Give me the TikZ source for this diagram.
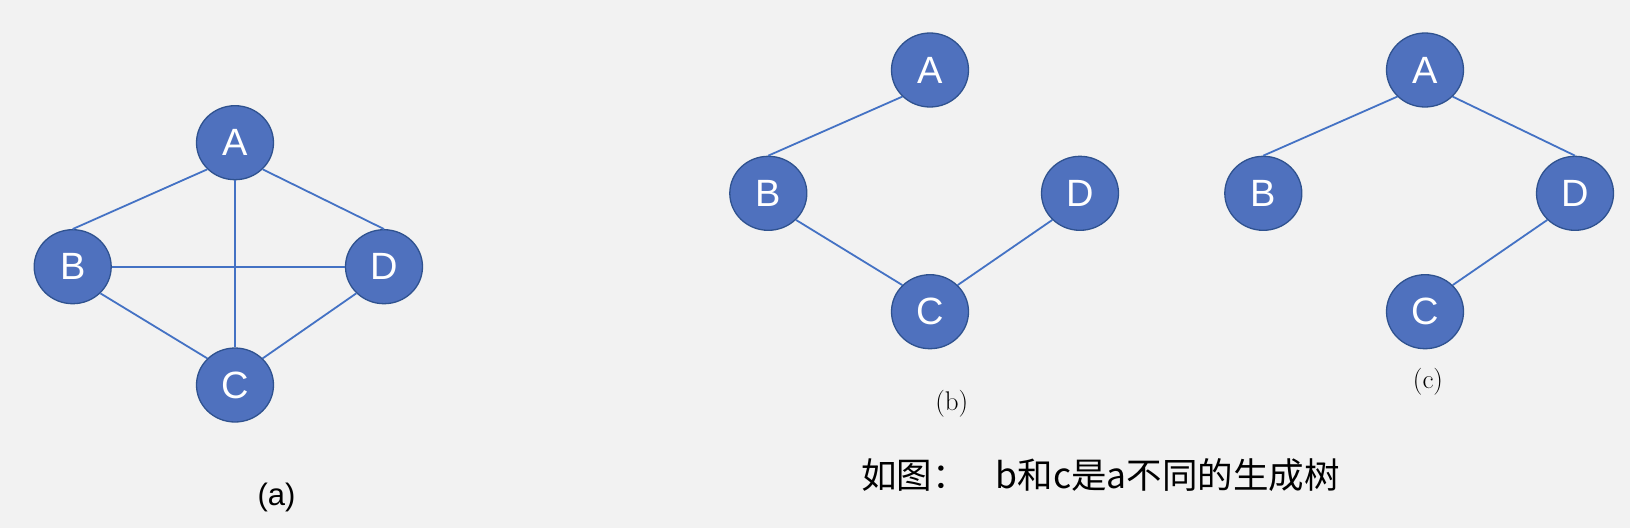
\documentclass[tikz,border=0pt]{standalone}
\usepackage{fontspec}
\setmainfont{Latin Modern Roman}
\newfontfamily\lettersans{Liberation Sans}
\newfontfamily\cjk{Noto Sans CJK SC}
\usetikzlibrary{shapes.geometric}
\definecolor{bgc}{HTML}{F2F2F2}
\definecolor{nodefill}{HTML}{4F71BE}
\definecolor{nodeline}{HTML}{2F528F}
\definecolor{edgec}{HTML}{4472C4}
\begin{document}
\begin{tikzpicture}[x=1pt,y=-1pt,
  vert/.style={ellipse, fill=nodefill, draw=nodeline, line width=1.3pt,
    minimum width=77pt, minimum height=74pt, inner sep=0pt,
    text=white, font=\lettersans\fontsize{38}{42}\selectfont},
  edge/.style={draw=edgec, line width=1.8pt},
  sublabel/.style={font=\fontsize{27}{31}\selectfont},
]
\fill[bgc] (0,0) rectangle (1630,528);
\useasboundingbox (0,0) rectangle (1630,528);
% (a)
\node[vert] (aA) at (235,142.7) {A};
\node[vert] (aB) at (72.7,266.7) {B};
\node[vert] (aD) at (384,266.7) {D};
\node[vert] (aC) at (235,385) {C};
\draw[edge] (aA.south west) -- (aB.north);
\draw[edge] (aA.south east) -- (aD.north);
\draw[edge] (aA.south) -- (aC.north);
\draw[edge] (aB.east) -- (aD.west);
\draw[edge] (aB.south east) -- (aC.north west);
\draw[edge] (aD.south west) -- (aC.north east);
\node[font=\lettersans\fontsize{31}{35}\selectfont] (la) at (276.5,497) {(a)};
% (b)
\node[vert] (bA) at (930,70) {A};
\node[vert] (bB) at (768.3,193.3) {B};
\node[vert] (bD) at (1080,193.3) {D};
\node[vert] (bC) at (930,311.7) {C};
\draw[edge] (bA.south west) -- (bB.north);
\draw[edge] (bB.south east) -- (bC.north west);
\draw[edge] (bD.south west) -- (bC.north east);
\node[sublabel] (lb) at (951.7,404) {(b)};
% (c)
\node[vert] (cA) at (1425,70) {A};
\node[vert] (cB) at (1263.3,193.3) {B};
\node[vert] (cD) at (1575,193.3) {D};
\node[vert] (cC) at (1425,311.7) {C};
\draw[edge] (cA.south west) -- (cB.north);
\draw[edge] (cA.south east) -- (cD.north);
\draw[edge] (cD.south west) -- (cC.north east);
\node[sublabel] (lc) at (1428,382) {(c)};
% caption
\node[anchor=west, inner sep=0pt, font=\cjk\fontsize{35.5}{40}\selectfont] (cap) at (861,475) {如图：\hspace{28pt}b和c是a不同的生成树};
\end{tikzpicture}
\end{document}
